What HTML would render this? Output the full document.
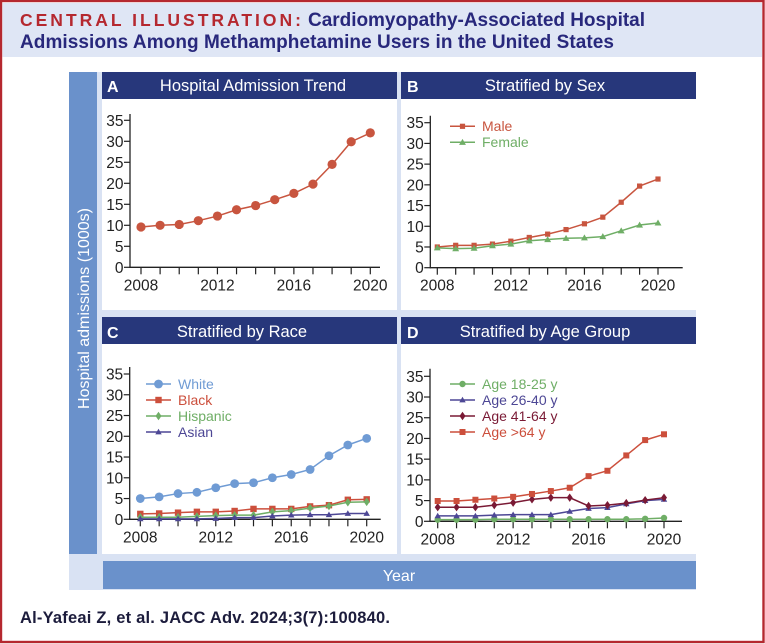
<!DOCTYPE html>
<html lang="en">
<head>
<meta charset="utf-8">
<title>Central Illustration</title>
<style>
html,body{margin:0;padding:0;background:#fff;}
svg{display:block;font-family:"Liberation Sans",sans-serif;}
</style>
</head>
<body>
<svg id="fig" xmlns="http://www.w3.org/2000/svg" width="765" height="644" viewBox="0 0 765 644">
  <rect x="1" y="1" width="762.5" height="641" fill="#fff" stroke="#b5282f" stroke-width="2.4"/>
  <rect x="2.5" y="3" width="759.5" height="54" fill="#dfe6f5"/>
  <text x="20" y="26" font-size="17.5" font-weight="700" fill="#b5282f" textLength="281" lengthAdjust="spacing">CENTRAL ILLUSTRATION:</text>
  <text x="308" y="26" font-size="19" font-weight="700" fill="#28287c" textLength="337" lengthAdjust="spacing">Cardiomyopathy-Associated Hospital</text>
  <text x="20" y="48" font-size="19" font-weight="700" fill="#28287c" textLength="594" lengthAdjust="spacing">Admissions Among Methamphetamine Users in the United States</text>

  <rect x="69" y="72" width="627" height="518" fill="#d9e2f3"/>
  <rect x="69" y="72" width="28" height="482" fill="#6a91cb"/>
  <text transform="translate(89 308.5) rotate(-90)" text-anchor="middle" font-size="16" fill="#fff">Hospital admissions (1000s)</text>
  <rect x="103" y="561" width="593" height="28" fill="#6a91cb"/>
  <text x="399" y="581" text-anchor="middle" font-size="16" fill="#fff">Year</text>

  <rect x="102" y="72" width="295" height="238" fill="#fff"/>
  <rect x="401" y="72" width="295" height="238" fill="#fff"/>
  <rect x="102" y="317" width="295" height="237" fill="#fff"/>
  <rect x="401" y="317" width="295" height="237" fill="#fff"/>
  <rect x="102" y="72" width="295" height="27" fill="#27377b"/>
  <rect x="401" y="72" width="295" height="27" fill="#27377b"/>
  <rect x="102" y="317" width="295" height="27" fill="#27377b"/>
  <rect x="401" y="317" width="295" height="27" fill="#27377b"/>

  <text x="107" y="92" font-size="16" font-weight="700" fill="#fff">A</text>
  <text x="407" y="92" font-size="16" font-weight="700" fill="#fff">B</text>
  <text x="107" y="338" font-size="16" font-weight="700" fill="#fff">C</text>
  <text x="407" y="338" font-size="16" font-weight="700" fill="#fff">D</text>
  <text x="253" y="91" text-anchor="middle" font-size="16.5" fill="#fff">Hospital Admission Trend</text>
  <text x="545" y="91" text-anchor="middle" font-size="16.5" fill="#fff">Stratified by Sex</text>
  <text x="242" y="337" text-anchor="middle" font-size="16.5" fill="#fff">Stratified by Race</text>
  <text x="545" y="337" text-anchor="middle" font-size="16.5" fill="#fff">Stratified by Age Group</text>

  <text x="20" y="623" font-size="16.5" font-weight="700" fill="#1c1c3c" textLength="370" lengthAdjust="spacing">Al-Yafeai Z, et al. JACC Adv. 2024;3(7):100840.</text>
</svg>
<script>
const years = [2008,2009,2010,2011,2012,2013,2014,2015,2016,2017,2018,2019,2020];
const xTickLabels = [2008,2012,2016,2020];
const yTickLabels = [0,5,10,15,20,25,30,35];

const allAdmissions = [9.6,10,10.2,11.1,12.2,13.7,14.7,16.1,17.6,19.8,24.5,29.9,32];
const male = [5,5.4,5.4,5.7,6.4,7.3,8.1,9.2,10.6,12.2,15.8,19.7,21.4];
const female = [4.8,4.6,4.7,5.3,5.7,6.5,6.8,7.1,7.2,7.5,8.9,10.3,10.8];
const white = [5,5.4,6.2,6.5,7.6,8.6,8.8,10,10.8,12,15.3,17.9,19.5];
const black = [1.3,1.4,1.6,1.8,1.8,2,2.5,2.5,2.5,3.1,3.4,4.7,4.8];
const hispanic = [0.5,0.5,0.5,0.7,0.9,1,1,1.8,2.1,2.7,3.2,4.1,4.2];
const asian = [0.1,0.1,0.1,0.1,0.2,0.4,0.4,0.8,1,1.1,1.1,1.4,1.4];
const age18to25 = [0.4,0.4,0.4,0.5,0.5,0.5,0.5,0.5,0.5,0.5,0.5,0.6,0.8];
const age26to40 = [1.3,1.3,1.3,1.5,1.6,1.6,1.6,2.4,3.1,3.3,4.2,5,5.3];
const age41to64 = [3.4,3.4,3.4,3.9,4.5,5.3,5.7,5.7,3.7,3.9,4.4,5.1,5.7];
const ageOver64 = [4.9,4.9,5.2,5.5,5.9,6.6,7.3,8.1,10.9,12.2,15.9,19.6,21];

const svg = document.getElementById('fig');
const NS = 'http://www.w3.org/2000/svg';

function make(tag, attrs, parent) {
  const el = document.createElementNS(NS, tag);
  for (const k in attrs) el.setAttribute(k, attrs[k]);
  parent.appendChild(el);
  return el;
}

function drawMarker(g, shape, x, y, r, color) {
  let el;
  if (shape === 'circle') {
    el = make('circle', {cx: x, cy: y, r: r, fill: color}, g);
  } else if (shape === 'square') {
    el = make('rect', {x: x - r, y: y - r, width: 2 * r, height: 2 * r, fill: color}, g);
  } else if (shape === 'triangle') {
    el = make('polygon', {points: (x) + ',' + (y - r * 1.15) + ' ' + (x + r * 1.15) + ',' + (y + r * 0.85) + ' ' + (x - r * 1.15) + ',' + (y + r * 0.85), fill: color}, g);
  } else {
    el = make('polygon', {points: x + ',' + (y - r * 1.4) + ' ' + (x + r) + ',' + y + ' ' + x + ',' + (y + r * 1.4) + ' ' + (x - r) + ',' + y, fill: color}, g);
  }
  
  
}

function drawChart(box, series, legend) {
  const g = make('g', {}, svg);
  
  
  const xScale = v => box.x0 + (v - years[0]) * (box.x1 - box.x0) / (years[years.length - 1] - years[0]);
  const yScale = v => box.y0 + v * (box.y35 - box.y0) / 35;

  const yAxis = make('line', {x1: box.axisX, x2: box.axisX, y1: box.top, y2: box.y0 + 0.7, stroke: '#222', 'stroke-width': 1.3}, g);
  
  
  const xAxis = make('line', {x1: box.axisX, x2: box.end, y1: box.y0, y2: box.y0, stroke: '#222', 'stroke-width': 1.3}, g);
  
  

  yTickLabels.forEach(v => {
    const y = yScale(v);
    const tick = make('line', {x1: box.axisX - 6, x2: box.axisX, y1: y, y2: y, stroke: '#222', 'stroke-width': 1.2}, g);
    
    
    const label = make('text', {x: box.axisX - 6.5, y: y + 5.5, 'text-anchor': 'end', 'font-size': 15.5, fill: '#222'}, g);
    label.textContent = v;
    
    
  });
  years.forEach(v => {
    const x = xScale(v);
    const tick = make('line', {x1: x, x2: x, y1: box.y0, y2: box.y0 + 7, stroke: '#222', 'stroke-width': 1.2}, g);
    
    
  });
  xTickLabels.forEach(v => {
    const label = make('text', {x: xScale(v), y: box.y0 + 23, 'text-anchor': 'middle', 'font-size': 15.5, fill: '#222'}, g);
    label.textContent = v;
    
    
  });

  series.forEach(s => {
    const sg = make('g', {}, g);
    
    
    const pts = s.values.map((v, i) => xScale(years[i]) + ',' + yScale(v)).join(' ');
    const line = make('polyline', {points: pts, fill: 'none', stroke: s.color, 'stroke-width': 1.5}, sg);
    
    
    s.values.forEach((v, i) => drawMarker(sg, s.shape, xScale(years[i]), yScale(v), s.r, s.color));
  });

  if (legend) {
    series.forEach((s, i) => {
      const y = legend.y + i * legend.step;
      const lg = make('g', {}, g);
      
      
      make('line', {x1: legend.x, x2: legend.x + 25, y1: y, y2: y, stroke: s.color, 'stroke-width': 1.5}, lg);
      drawMarker(lg, s.shape, legend.x + 12.5, y, s.r, s.color);
      const t = make('text', {x: legend.x + 32, y: y + 4.8, 'font-size': 14, fill: s.color}, lg);
      t.textContent = s.label;
      
      
    });
  }
}

const RED = '#c8553f', GREEN = '#6fae66', BLUE = '#6f9bd4', PURPLE = '#4d4795', MAROON = '#7a1a35', BRICK = '#cc4f3c';

drawChart({name: 'chart-a', axisX: 130, top: 114, y0: 267.3, y35: 120.3, x0: 141, x1: 370.3, end: 380},
  [{key: 'all', label: 'All', values: allAdmissions, color: RED, shape: 'circle', r: 4.6}]);

drawChart({name: 'chart-b', axisX: 430.3, top: 115.7, y0: 267.7, y35: 122.7, x0: 437.3, x1: 658, end: 682.7},
  [{key: 'male', label: 'Male', values: male, color: RED, shape: 'square', r: 2.6},
   {key: 'female', label: 'Female', values: female, color: GREEN, shape: 'triangle', r: 3}],
  {x: 450, y: 126.3, step: 16});

drawChart({name: 'chart-c', axisX: 129.7, top: 367, y0: 519.3, y35: 374, x0: 140.3, x1: 366.7, end: 380.7},
  [{key: 'white', label: 'White', values: white, color: BLUE, shape: 'circle', r: 4.4},
   {key: 'black', label: 'Black', values: black, color: BRICK, shape: 'square', r: 3.2},
   {key: 'hispanic', label: 'Hispanic', values: hispanic, color: GREEN, shape: 'diamond', r: 3},
   {key: 'asian', label: 'Asian', values: asian, color: PURPLE, shape: 'triangle', r: 2.8}],
  {x: 146, y: 384, step: 16});

drawChart({name: 'chart-d', axisX: 430, top: 368.7, y0: 521.3, y35: 376.3, x0: 437.7, x1: 664, end: 682},
  [{key: 'age-18-25', label: 'Age 18-25 y', values: age18to25, color: GREEN, shape: 'circle', r: 3.2},
   {key: 'age-26-40', label: 'Age 26-40 y', values: age26to40, color: PURPLE, shape: 'triangle', r: 2.8},
   {key: 'age-41-64', label: 'Age 41-64 y', values: age41to64, color: MAROON, shape: 'diamond', r: 3},
   {key: 'age-over-64', label: 'Age >64 y', values: ageOver64, color: BRICK, shape: 'square', r: 3}],
  {x: 450, y: 384, step: 16});
</script>
</body>
</html>
